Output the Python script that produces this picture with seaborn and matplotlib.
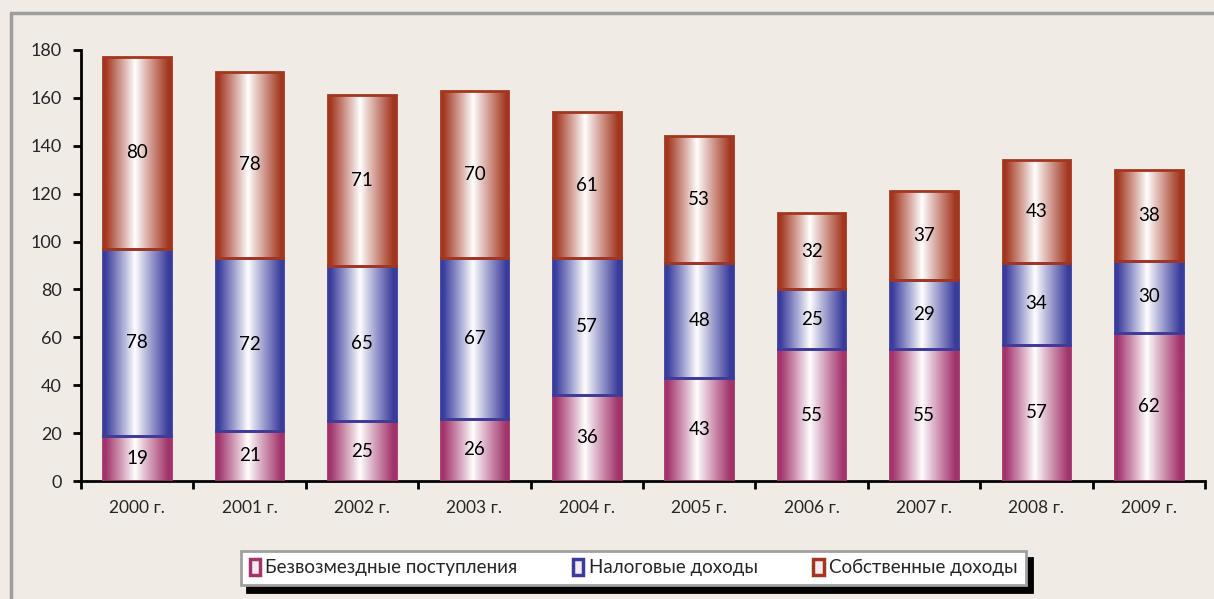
import matplotlib
matplotlib.use("Agg")
from matplotlib import pyplot as plt
from matplotlib.patches import Patch
from matplotlib.lines import Line2D
from matplotlib.colors import to_rgb
import numpy as np
import seaborn as sns

years = ['2000 г.', '2001 г.', '2002 г.', '2003 г.', '2004 г.',
         '2005 г.', '2006 г.', '2007 г.', '2008 г.', '2009 г.']
bezvozmezdnye = [19, 21, 25, 26, 36, 43, 55, 55, 57, 62]
nalogovye = [78, 72, 65, 67, 57, 48, 25, 29, 34, 30]
sobstvennye = [80, 78, 71, 70, 61, 53, 32, 37, 43, 38]
series_names = ['Безвозмездные поступления', 'Налоговые доходы', 'Собственные доходы']
colors = ['#A2336B', '#3A3C9C', '#A3361F']

bg = '#F0EBE4'
sns.set_style('white')
plt.rcParams['font.family'] = ['Lato', 'DejaVu Sans']

fig = plt.figure(figsize=(12.14, 5.99), dpi=100, facecolor=bg)
ax = fig.add_axes([81/1214, 1-481/599, 1124/1214, 431/599])
ax.set_facecolor(bg)

# рамка вокруг диаграммы (видны только верх и левый край)
fig.add_artist(Line2D([11/1214, 11/1214], [0, 1-13/599], transform=fig.transFigure, color='#9E9E9E', lw=2.5))
fig.add_artist(Line2D([11/1214, 1], [1-13/599, 1-13/599], transform=fig.transFigure, color='#9E9E9E', lw=2.5))

bottoms = np.zeros(len(years))
for vals, name, col in zip([bezvozmezdnye, nalogovye, sobstvennye], series_names, colors):
    sns.barplot(x=years, y=vals, bottom=bottoms, color=col, width=0.6, ax=ax,
                edgecolor=col, linewidth=2, zorder=2)
    bottoms = bottoms + np.array(vals)

# градиентная заливка столбиков
def grad(col, n=200):
    c = np.array(to_rgb(col))
    t = np.linspace(0, 1, n)
    d = np.where(t < 0.47, (0.47 - t) / 0.47, (t - 0.47) / 0.53)
    w = np.clip(d * 1.08, 0, 1) ** 0.95
    img = (1 - w)[:, None] * np.ones(3) + w[:, None] * c
    return img[None, :, :]

for cont, col in zip(ax.containers, colors):
    for p in cont.patches:
        x0, y0 = p.get_x(), p.get_y()
        im = ax.imshow(grad(col), extent=[x0, x0 + p.get_width(), y0, y0 + p.get_height()],
                       aspect='auto', zorder=2.5, interpolation='bilinear')
        im.set_clip_path(p)
        p.set_facecolor('none')
        p.set_zorder(3)
    ax.bar_label(cont, label_type='center', fontsize=13.5, color='black', zorder=4)

ax.set_xlim(-0.5, 9.5)
ax.set_ylim(0, 180)
ax.set_yticks(range(0, 181, 20))
ax.set_xticks(np.arange(-0.5, 10, 1), minor=True)
ax.tick_params(axis='x', which='major', length=0, pad=14, labelsize=12.5)
ax.tick_params(axis='x', which='minor', length=6, width=2, direction='out', color='black')
ax.tick_params(axis='y', length=6, width=2, direction='out', color='black', labelsize=13, pad=8)
ax.xaxis.set_ticks_position('bottom')
ax.yaxis.set_ticks_position('left')
for s in ['top', 'right']:
    ax.spines[s].set_visible(False)
for s in ['left', 'bottom']:
    ax.spines[s].set_color('black')
    ax.spines[s].set_linewidth(2)
ax.set_xlabel('')
ax.set_ylabel('')

handles = [Patch(facecolor='#F4ECEF', edgecolor=c, linewidth=2.5) for c in colors]
leg = fig.legend(handles, series_names, loc='center', bbox_to_anchor=(0.522, 0.052),
                 ncol=3, frameon=True, fancybox=False, fontsize=13.5,
                 handlelength=0.55, handleheight=0.9, handletextpad=0.3,
                 columnspacing=2.95, borderpad=0.45,
                 shadow={'color': 'black', 'alpha': 1, 'ox': 4, 'oy': -5})
leg.get_frame().set_edgecolor('#A0A0A0')
leg.get_frame().set_linewidth(2)
leg.get_frame().set_facecolor('white')

fig.savefig('out.png', dpi=100, facecolor=bg)
